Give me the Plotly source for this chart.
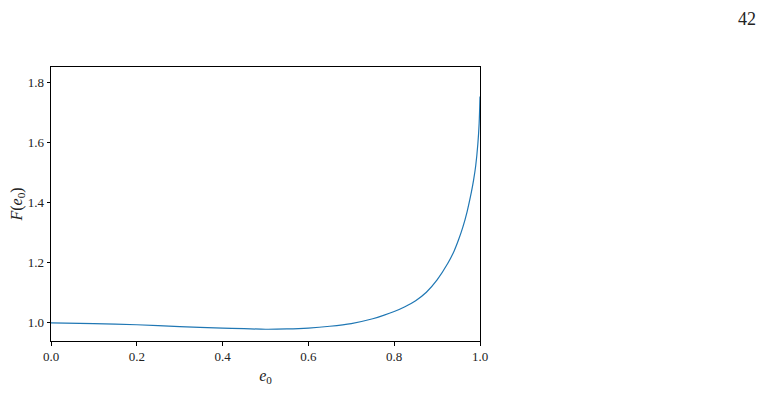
import plotly.graph_objects as go

# values
e0 = [0.0, 0.1, 0.2, 0.3, 0.4, 0.45, 0.5, 0.55, 0.6, 0.65, 0.7, 0.75, 0.775,
      0.8, 0.825, 0.85, 0.875, 0.9, 0.925, 0.94, 0.95, 0.96, 0.97, 0.98,
      0.985, 0.99, 0.995, 0.998, 1.0]
F = [1.000, 0.998, 0.994, 0.988, 0.983, 0.981, 0.979, 0.980, 0.983, 0.989,
     0.998, 1.014, 1.025, 1.038, 1.054, 1.074, 1.102, 1.143, 1.198, 1.240,
     1.276, 1.318, 1.370, 1.435, 1.474, 1.522, 1.595, 1.662, 1.752]

x_ticks = [0.0, 0.2, 0.4, 0.6, 0.8, 1.0]
y_ticks = [1.0, 1.2, 1.4, 1.6, 1.8]

font = "Liberation Serif"

fig = go.Figure()

fig.add_trace(go.Scatter(
    x=e0, y=F,
    mode="lines",
    line=dict(color="#1f77b4", width=1.2, shape="spline", smoothing=0.8),
    showlegend=False,
))

axis_style = dict(
    showline=True, linecolor="black", linewidth=1, mirror=True,
    showgrid=False, zeroline=False, automargin=False,
    ticks="outside", ticklen=3.5, tickwidth=0.8, tickcolor="black",
    tickfont=dict(family=font, size=13, color="#222"),
)

fig.update_xaxes(range=[0, 1], tickvals=x_ticks,
                 ticktext=["%.1f" % v for v in x_ticks],
                 title=dict(text="<i>e</i><sub>0</sub>", standoff=6,
                            font=dict(family=font, size=16, color="#222")),
                 **axis_style)
fig.update_yaxes(range=[0.94, 1.85], tickvals=y_ticks,
                 ticktext=["%.1f" % v for v in y_ticks],
                 title=dict(text="<i>F</i>(<i>e</i><sub>0</sub>)", standoff=4,
                            font=dict(family=font, size=16, color="#222")),
                 **axis_style)

# page number in the corner
fig.add_annotation(text="42", xref="paper", yref="paper", x=1.648, y=1.175,
                   xanchor="right", yanchor="middle", showarrow=False,
                   font=dict(family=font, size=18, color="#222"))

fig.update_layout(
    width=764, height=412,
    margin=dict(l=43, r=292, t=59, b=79),
    plot_bgcolor="white", paper_bgcolor="white",
    font=dict(family=font),
)

fig.write_html("out.html")
